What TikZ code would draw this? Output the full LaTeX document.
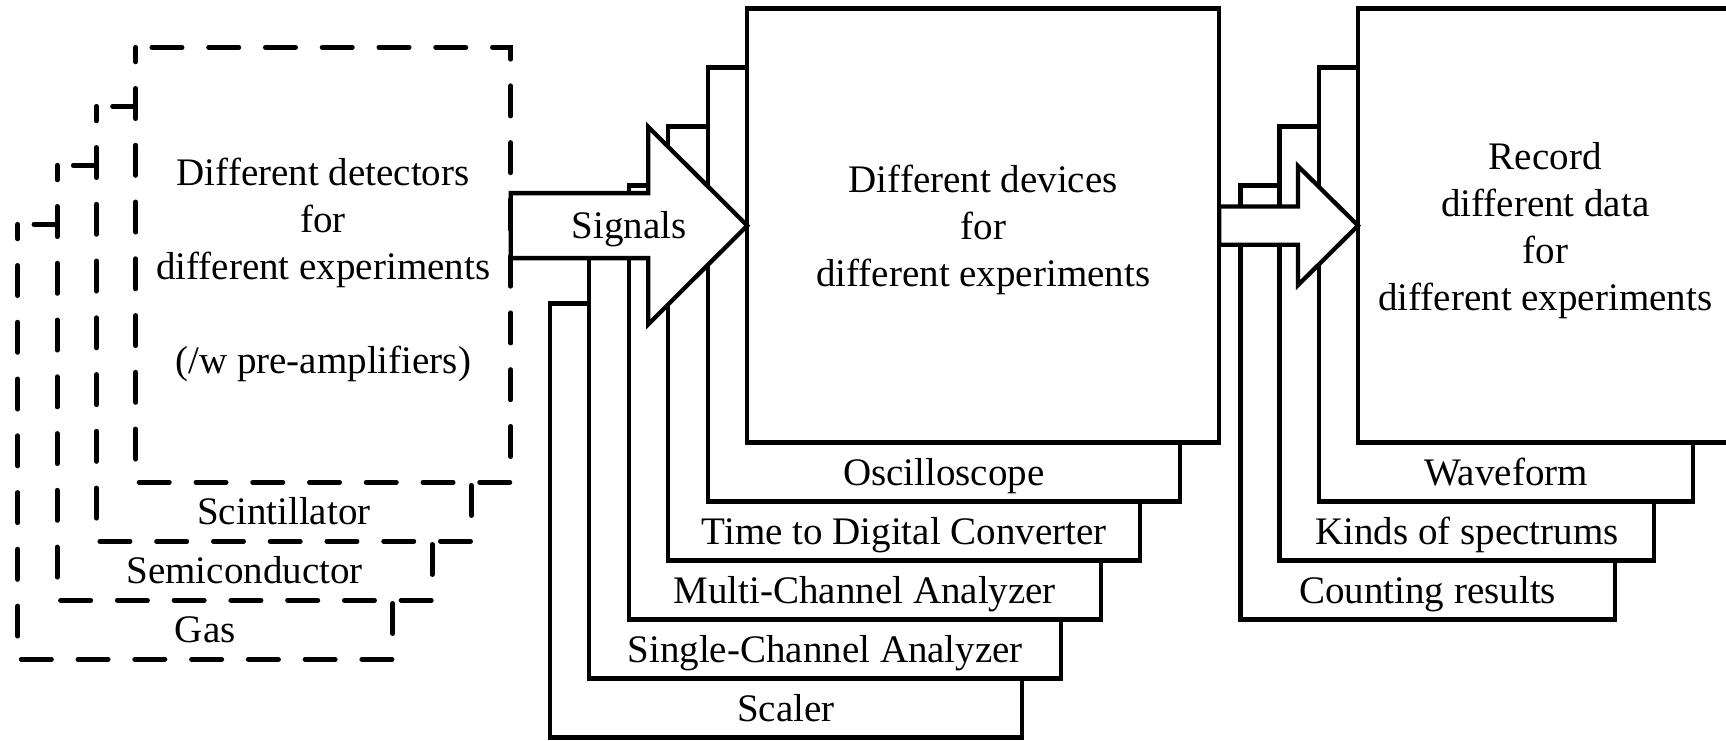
\documentclass[tikz,border=0pt]{standalone}
\usepackage{fontspec}
\setmainfont{Liberation Serif}
\usetikzlibrary{calc}
\tikzset{
  lw/.style={line width=4.3pt},
  detbox/.style={fill=white, minimum width=375pt, minimum height=435pt, inner sep=0pt, outer sep=0pt},
  dashline/.style={draw, line width=4.8pt, line cap=round, dash pattern=on 30.2pt off 26.56pt, dash phase=40.6pt},
  devbox/.style={draw, lw, fill=white, minimum width=472pt, minimum height=434pt, inner sep=0pt, outer sep=0pt},
  recbox/.style={draw, lw, fill=white, minimum width=374.5pt, minimum height=434pt, inner sep=0pt, outer sep=0pt},
  txt/.style={font=\fontsize{39}{47}\selectfont, align=center, inner sep=0pt},
  lbl/.style={font=\fontsize{39}{47}\selectfont, anchor=base, inner sep=0pt},
  blockarrow/.style={draw, lw, fill=white, line join=miter},
}
\begin{document}
\begin{tikzpicture}[x=1pt,y=-1pt]
\useasboundingbox (0,0) rectangle (1726,740);
\clip (0,0) rectangle (1726,740);
% detectors (back to front)
\node[detbox] (gas) at (205.3,441.8) {};
\draw[dashline] (gas.north west) -- (gas.north east) -- (gas.south east) -- (gas.south west) -- cycle;
\node[detbox] (semi) at (244.6,382.8) {};
\draw[dashline] (semi.north west) -- (semi.north east) -- (semi.south east) -- (semi.south west) -- cycle;
\node[detbox] (scint) at (283.9,323.8) {};
\draw[dashline] (scint.north west) -- (scint.north east) -- (scint.south east) -- (scint.south west) -- cycle;
\node[detbox] (det) at (323.2,264.8) {};
\draw[dashline] (det.north west) -- (det.north east) -- (det.south east) -- (det.south west) -- cycle;
% devices
\node[devbox] (scaler) at (785.75,520.6) {};
\node[devbox] (sca) at (825.25,461.6) {};
\node[devbox] (mca) at (864.75,402.6) {};
\node[devbox] (tdc) at (904.25,343.6) {};
\node[devbox] (osc) at (943.75,284.6) {};
\node[devbox] (dev) at (983.25,225.6) {};
% records
\node[recbox] (count) at (1427.65,402.6) {};
\node[recbox] (kinds) at (1466.85,343.6) {};
\node[recbox] (wave) at (1506.05,284.6) {};
\node[recbox] (rec) at (1545.25,225.6) {};
% arrows
\draw[blockarrow] ($(det.east |- dev.west)+(0,-32.5)$) -- ($(dev.west)+(-99,-32.5)$) -- ($(dev.west)+(-99,-98.7)$) -- (dev.west) -- ($(dev.west)+(-99,98.7)$) -- ($(dev.west)+(-99,32.5)$) -- ($(det.east |- dev.west)+(0,32.5)$) -- cycle;
\draw[blockarrow] ($(dev.east |- rec.west)+(0,-19.2)$) -- ($(rec.west)+(-60,-19.2)$) -- ($(rec.west)+(-60,-59.5)$) -- (rec.west) -- ($(rec.west)+(-60,59.5)$) -- ($(rec.west)+(-60,19.2)$) -- ($(dev.east |- rec.west)+(0,19.2)$) -- cycle;
\node[txt, yshift=-4pt] (sig) at ($(det.east |- dev.west)!0.5!(dev.west)$) {Signals};
% texts
\node[txt] (dettxt) at ([yshift=-5.5pt]det.center) {Different detectors\\for\\different experiments\\[47pt](/w pre-amplifiers)};
\node[txt] (devtxt) at ([yshift=-4pt]dev.center) {Different devices\\for\\different experiments};
\node[txt] (rectxt) at ([yshift=-5pt]rec.center) {Record\\different data\\for\\different experiments};
% labels
\node[lbl] (scintl) at ([yshift=16.5pt]scint.south) {Scintillator};
\node[lbl] (semil) at ([yshift=16.5pt]semi.south) {Semiconductor};
\node[lbl] (gasl) at ([yshift=16.5pt]gas.south) {Gas};
\node[lbl] (oscl) at ([yshift=16pt]osc.south) {Oscilloscope};
\node[lbl] (tdcl) at ([yshift=16pt]tdc.south) {Time to Digital Converter};
\node[lbl] (mcal) at ([yshift=16pt]mca.south) {Multi-Channel Analyzer};
\node[lbl] (scal) at ([yshift=16pt]sca.south) {Single-Channel Analyzer};
\node[lbl] (scalerl) at ([yshift=16pt]scaler.south) {Scaler};
\node[lbl] (wavel) at ([yshift=16pt]wave.south) {Waveform};
\node[lbl] (kindsl) at ([yshift=16pt]kinds.south) {Kinds of spectrums};
\node[lbl] (countl) at ([yshift=16pt]count.south) {Counting results};
\end{tikzpicture}
\end{document}
